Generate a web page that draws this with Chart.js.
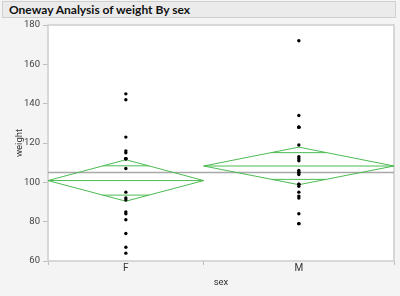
<!DOCTYPE html>
<html><head><meta charset="utf-8">
<script src="https://cdn.jsdelivr.net/npm/chart.js@4"></script>
<style>
html,body{margin:0;padding:0;background:#f4f4f4;}
#wrap{position:relative;width:400px;height:296px;}
#ttl{position:absolute;left:2px;top:1px;width:394px;height:17px;background:#ebebeb;border:1px solid #cfcfcf;box-sizing:border-box;
font:bold 12px "Lato",sans-serif;color:#111;line-height:15px;padding-left:6px;white-space:nowrap;}
canvas{position:absolute;left:0;top:0;}
</style></head><body>
<div id="wrap"><canvas id="c" width="400" height="296"></canvas><div id="ttl">Oneway Analysis of weight By sex</div></div>
<script>
const categories = ['F', 'M'];
const groupCounts = [18, 22];
const weightsF = [145, 142, 123, 116, 115, 112, 112, 112, 107, 95, 92, 91, 85, 84, 81, 74, 67, 64];
const weightsM = [172, 134, 128, 128, 128, 119, 113, 112, 111, 106, 105, 105, 104, 99, 99, 98, 95, 93, 92, 84, 79, 79];
const groupMeans = [100.9, 108.3];
const ciLower = [90.4, 98.8];
const ciUpper = [111.5, 117.9];
const overlapLower = [93.5, 101.5];
const overlapUpper = [108.4, 115.1];
const grandMean = 105.0;
const yTickValues = [60, 80, 100, 120, 140, 160, 180];

const starts = [], ends = [], centers = [];
let acc = 0;
groupCounts.forEach((n) => { starts.push(acc); ends.push(acc + n); centers.push(acc + n / 2); acc += n; });
const total = acc;

const green = '#4dbb52';
const datasets = [];
datasets.push({
  type: 'scatter', data: [
    ...weightsF.map(v => ({x: centers[0], y: v})),
    ...weightsM.map(v => ({x: centers[1], y: v}))
  ],
  pointRadius: 1.7, pointBackgroundColor: '#000', pointBorderWidth: 0, showLine: false
});
const seg = (pts, color, w) => ({type: 'line', data: pts, borderColor: color, borderWidth: w, pointRadius: 0, fill: false, tension: 0});
categories.forEach((c, i) => {
  const s = starts[i], e = ends[i], m = centers[i], half = (e - s) / 2;
  datasets.push(seg([{x: s, y: groupMeans[i]}, {x: m, y: ciUpper[i]}, {x: e, y: groupMeans[i]}, {x: m, y: ciLower[i]}, {x: s, y: groupMeans[i]}], green, 1));
  datasets.push(seg([{x: s, y: groupMeans[i]}, {x: e, y: groupMeans[i]}], green, 1));
  const fU = (1 - (overlapUpper[i] - groupMeans[i]) / (ciUpper[i] - groupMeans[i])) * half;
  const fL = (1 - (groupMeans[i] - overlapLower[i]) / (groupMeans[i] - ciLower[i])) * half;
  datasets.push(seg([{x: m - fU, y: overlapUpper[i]}, {x: m + fU, y: overlapUpper[i]}], green, 1));
  datasets.push(seg([{x: m - fL, y: overlapLower[i]}, {x: m + fL, y: overlapLower[i]}], green, 1));
});
datasets.push(seg([{x: 0, y: grandMean}, {x: total, y: grandMean}], '#a8a8a8', 1.3));

const xTickVals = [0, centers[0], ends[0], centers[1], total];
const frame = {
  id: 'frame',
  beforeDatasetsDraw(chart) {
    const {ctx, chartArea: a} = chart;
    ctx.save();
    ctx.fillStyle = '#fff';
    ctx.fillRect(a.left, a.top, a.right - a.left, a.bottom - a.top);
    ctx.strokeStyle = '#cdcdcd';
    ctx.lineWidth = 1.5;
    ctx.strokeRect(a.left, a.top, a.right - a.left, a.bottom - a.top);
    ctx.restore();
  }
};

new Chart(document.getElementById('c'), {
  type: 'line',
  data: {datasets},
  options: {
    responsive: false, animation: false, events: [],
    layout: {padding: {left: 14, top: 25, right: 6, bottom: 8}},
    plugins: {legend: {display: false}, tooltip: {enabled: false}},
    scales: {
      x: {
        type: 'linear', min: 0, max: total,
        afterBuildTicks: (s) => { s.ticks = xTickVals.map(v => ({value: v})); },
        afterFit: (s) => { s.height = 27; },
        grid: {drawOnChartArea: false, drawTicks: true, tickLength: 4,
          tickColor: (ctx) => (ctx.tick && centers.includes(ctx.tick.value)) ? 'rgba(0,0,0,0)' : '#bdbdbd'},
        border: {display: false},
        ticks: {autoSkip: false, maxRotation: 0, padding: -3, color: '#333', font: {family: 'Roboto', size: 10}},
        title: {display: true, text: 'sex', color: '#333', font: {family: 'Roboto', size: 9.5}, padding: {top: 0, bottom: 0}}
      },
      y: {
        min: 60, max: 180,
        afterBuildTicks: (s) => { s.ticks = yTickValues.map(v => ({value: v})); },
        afterFit: (s) => { s.width = 34; },
        grid: {drawOnChartArea: false, drawTicks: true, tickLength: 5, tickColor: '#bdbdbd'},
        border: {display: false},
        ticks: {padding: 3, color: '#444', font: {family: 'Roboto', size: 9.5}},
        title: {display: true, text: 'weight', color: '#333', font: {family: 'Roboto', size: 9.5}, padding: {top: 0, bottom: 0}}
      }
    }
  },
  plugins: [frame]
});
// x tick labels
Chart.getChart('c').options.scales.x.ticks.callback = (v) => { const k = centers.indexOf(v); return k >= 0 ? categories[k] : ''; };
Chart.getChart('c').update();
</script></body></html>
